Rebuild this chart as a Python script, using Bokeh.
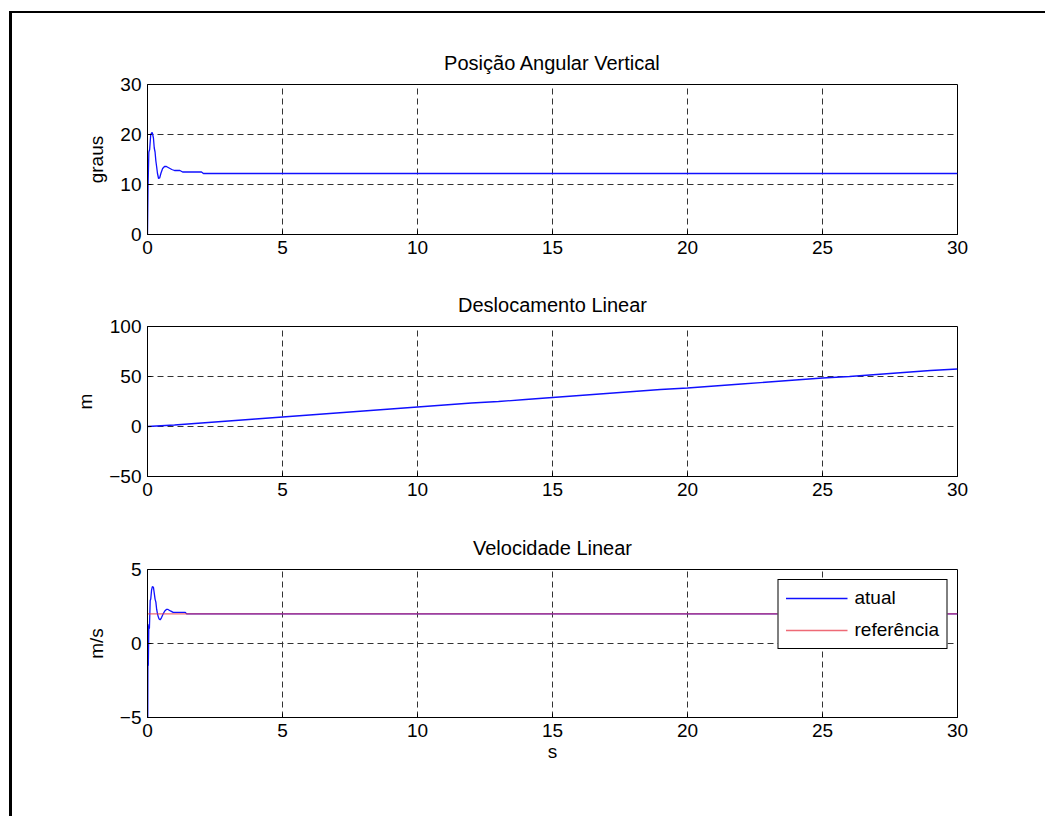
from bokeh.plotting import figure
from bokeh.models import FixedTicker, Legend, LegendItem, Column
from bokeh.embed import file_html
from bokeh.resources import INLINE

# ---- data ----
x_ticks = [0, 5, 10, 15, 20, 25, 30]

t_ang = [0, 0.02, 0.05, 0.08, 0.12, 0.16, 0.18, 0.22, 0.25, 0.28, 0.31, 0.34, 0.37,
         0.41, 0.45, 0.5, 0.56, 0.63, 0.7, 0.8, 0.9, 1.0, 1.2, 1.3, 2.0, 2.07, 30]
ang = [0, 9.5, 16.5, 17.0, 20.0, 20.4, 20.3, 19.3, 17.3, 16.5, 14.7, 13.5, 12.2,
       11.2, 11.3, 12.3, 13.2, 13.6, 13.6, 13.3, 13.0, 12.8, 12.8, 12.5, 12.5, 12.2, 12.2]
ang_ticks = [0, 10, 20, 30]

t_disp = list(range(0, 31))
disp = [0, 1.5, 3.5, 5.5, 7.5, 9.5, 11.5, 13.5, 15.5, 17.5, 19.5, 21.5, 23.5, 25.0,
        27.0, 29.0, 31.0, 33.0, 35.0, 37.0, 38.5, 40.5, 42.5, 44.5, 46.5, 48.5,
        50.0, 52.0, 54.0, 56.0, 57.5]
disp_ticks = [-50, 0, 50, 100]

t_vel = [0, 0.01, 0.02, 0.03, 0.05, 0.07, 0.1, 0.12, 0.15, 0.18, 0.22, 0.25, 0.28,
         0.31, 0.34, 0.37, 0.4, 0.43, 0.47, 0.52, 0.58, 0.64, 0.7, 0.76, 0.85, 0.95,
         1.05, 1.2, 1.4, 1.45, 30]
vel = [-5, -5, 1.2, -1.5, 1.3, 1.0, 2.9, 3.0, 3.6, 3.85, 3.8, 3.4, 3.0,
       2.8, 2.3, 2.0, 1.8, 1.65, 1.6, 1.75, 2.0, 2.2, 2.3, 2.3, 2.2, 2.1,
       2.1, 2.1, 2.1, 2.0, 2.0]
t_ref = [0, 30]
vel_ref = [2, 2]
vel_ticks = [-5, 0, 5]

FONT = "Liberation Sans"
FS = "19px"
BLUE = "#1010ff"


def make(top, bottom, frame_h, yr, yticks, ylabel, title, xlabel=None):
    p = figure(frame_width=810, frame_height=frame_h, x_range=(0, 30), y_range=yr,
               output_backend="svg", toolbar_location=None,
               min_border_left=135, min_border_right=88,
               min_border_top=top, min_border_bottom=bottom)
    p.title.text = title
    p.title.text_font = FONT
    p.title.text_font_size = "20px"
    p.title.text_font_style = "normal"
    p.title.text_color = "black"
    p.title.align = "center"
    p.title.standoff = 21
    p.outline_line_color = "black"
    p.outline_line_alpha = 1
    p.outline_line_width = 1
    p.xaxis.ticker = FixedTicker(ticks=x_ticks)
    p.yaxis.ticker = FixedTicker(ticks=yticks)
    for ax in (p.xaxis[0], p.yaxis[0]):
        ax.axis_line_color = "black"
        ax.major_tick_line_color = "black"
        ax.major_tick_in = 4
        ax.major_tick_out = 0
        ax.minor_tick_line_color = None
        ax.major_label_text_font = FONT
        ax.major_label_text_font_size = FS
        ax.major_label_text_color = "black"
        ax.axis_label_text_font = FONT
        ax.axis_label_text_font_size = FS
        ax.axis_label_text_font_style = "normal"
        ax.axis_label_text_color = "black"
        ax.major_label_standoff = 6
    p.yaxis.axis_label_standoff = 10
    p.xaxis.axis_label_standoff = 1
    p.yaxis.axis_label = ylabel
    if xlabel:
        p.xaxis.axis_label = xlabel
    for g in (p.xgrid[0], p.ygrid[0]):
        g.grid_line_color = "#333333"
        g.grid_line_dash = "6 4"
        g.grid_line_width = 1
    p.background_fill_color = "white"
    p.border_fill_color = "white"
    return p


p1 = make(71, 46, 150, (0, 30), ang_ticks, "graus", "Posição Angular Vertical")
p1.line(t_ang, ang, line_color=BLUE, line_width=1.3)

p2 = make(46, 46, 150, (-50, 100), disp_ticks, "m", "Deslocamento Linear")
p2.line(t_disp, disp, line_color=BLUE, line_width=1.3)

p3 = make(47, 99, 148, (-5, 5), vel_ticks, "m/s", "Velocidade Linear", xlabel="s")
r_at = p3.line(t_vel, vel, line_color=BLUE, line_width=1.3)
r_ref = p3.line(t_ref, vel_ref, line_color="#e83848", line_alpha=0.75, line_width=1.4)

leg = Legend(items=[LegendItem(label="atual", renderers=[r_at]),
                    LegendItem(label="referência", renderers=[r_ref])],
             location="top_right")
leg.label_text_font = FONT
leg.label_text_font_size = FS
leg.label_text_color = "black"
leg.border_line_color = "black"
leg.border_line_width = 1
leg.border_line_alpha = 1
leg.background_fill_color = "white"
leg.background_fill_alpha = 1
leg.glyph_width = 62
leg.glyph_height = 20
leg.label_height = 20
leg.label_standoff = 7
leg.spacing = 10
leg.padding = 7
leg.margin = 10
p3.add_layout(leg)

layout = Column(children=[p1, p2, p3], spacing=0,
                styles={"border-left": "3px solid black",
                        "border-top": "2px solid black",
                        "margin-top": "11px",
                        "margin-left": "9px"})

open("out.html", "w").write(file_html(layout, INLINE))
